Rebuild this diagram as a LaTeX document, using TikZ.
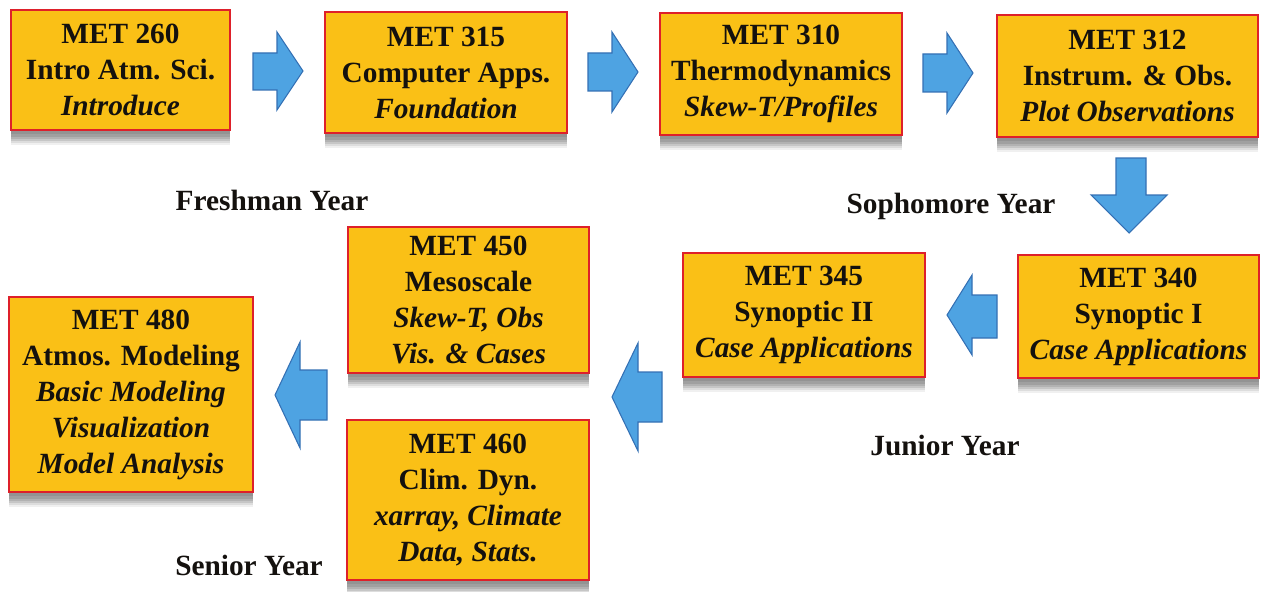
\documentclass[tikz,border=0pt]{standalone}
\usepackage{fontspec}
\setmainfont{Liberation Serif}
\usetikzlibrary{shadows}
\definecolor{boxgold}{RGB}{250,192,22}
\definecolor{boxred}{RGB}{222,32,42}
\definecolor{arrblue}{RGB}{78,163,226}
\definecolor{arredge}{RGB}{52,112,180}
\definecolor{txt}{RGB}{20,17,14}
\begin{document}
\begin{tikzpicture}[x=0.75pt,y=-0.75pt,
  softshadow/.style={
    general shadow={shadow xshift=0pt, shadow yshift=-11pt, opacity=.06, fill=black},
    general shadow={shadow xshift=0pt, shadow yshift=-9.5pt, opacity=.08, fill=black},
    general shadow={shadow xshift=0pt, shadow yshift=-8pt, opacity=.1, fill=black},
    general shadow={shadow xshift=0pt, shadow yshift=-6.5pt, opacity=.1, fill=black},
    general shadow={shadow xshift=0pt, shadow yshift=-5pt, opacity=.1, fill=black},
    general shadow={shadow xshift=0pt, shadow yshift=-3pt, opacity=.08, fill=black}},
  course/.style={draw=boxred, line width=1.4pt, fill=boxgold, text=txt, align=center,
    inner sep=0pt, font=\fontsize{22}{27}\selectfont\bfseries, softshadow},
  bluearrow/.style={fill=arrblue, draw=arredge, line width=0.8pt, line join=miter},
  year/.style={font=\fontsize{22}{27}\selectfont\bfseries, text=txt, anchor=base, inner sep=0pt}]
\useasboundingbox (0,0) rectangle (1261,592);
% course boxes
\node[course, minimum width=164.25pt, minimum height=90pt] (m260) at (120.5,70) {MET 260\\Intro Atm. Sci.\\\textit{Introduce}};
\node[course, minimum width=181.5pt, minimum height=90.75pt] (m315) at (446,72.5) {MET 315\\Computer Apps.\\\textit{Foundation}};
\node[course, minimum width=181.5pt, minimum height=91.5pt] (m310) at (781,74) {MET 310\\Thermodynamics\\\textit{Skew-T/Profiles}};
\node[course, minimum width=195.75pt, minimum height=91.5pt] (m312) at (1127.5,76) {MET 312\\Instrum. \& Obs.\\\textit{Plot Observations}};
\node[course, minimum width=180.75pt, minimum height=92.25pt] (m340) at (1138.5,316.5) {MET 340\\Synoptic I\\\textit{Case Applications}};
\node[course, minimum width=181.5pt, minimum height=93pt] (m345) at (804,315) {MET 345\\Synoptic II\\\textit{Case Applications}};
\node[course, minimum width=180.75pt, minimum height=109.5pt] (m450) at (468.5,300) {MET 450\\Mesoscale\\\textit{Skew-T, Obs}\\\textit{Vis. \& Cases}};
\node[course, minimum width=181.5pt, minimum height=120pt] (m460) at (468,500) {MET 460\\Clim. Dyn.\\\textit{xarray, Climate}\\\textit{Data, Stats.}};
\node[course, minimum width=183pt, minimum height=146.25pt] (m480) at (131,394.5) {MET 480\\Atmos. Modeling\\\textit{Basic Modeling}\\\textit{Visualization}\\\textit{Model Analysis}};
% block arrows
\draw[bluearrow] (253,53) -- (277,53) -- (277,32) -- (303,71) -- (277,110) -- (277,90) -- (253,90) -- cycle;
\draw[bluearrow] (588,53) -- (612,53) -- (612,32) -- (638,72) -- (612,112) -- (612,91) -- (588,91) -- cycle;
\draw[bluearrow] (923,54) -- (947,54) -- (947,33) -- (973,73) -- (947,113) -- (947,92) -- (923,92) -- cycle;
\draw[bluearrow] (1116,158) -- (1146,158) -- (1146,195) -- (1167,195) -- (1129,233) -- (1091,195) -- (1116,195) -- cycle;
\draw[bluearrow] (997,295) -- (972,295) -- (972,275) -- (947,315) -- (972,355) -- (972,338) -- (997,338) -- cycle;
\draw[bluearrow] (662,372) -- (638,372) -- (638,343) -- (612,397) -- (638,451) -- (638,422) -- (662,422) -- cycle;
\draw[bluearrow] (327,370) -- (300,370) -- (300,342) -- (275,395) -- (300,448) -- (300,420) -- (327,420) -- cycle;
% year labels
\node[year] (fresh) at (272,210) {Freshman Year};
\node[year] (soph) at (951,213) {Sophomore Year};
\node[year] (jun) at (945,455) {Junior Year};
\node[year] (sen) at (249,575) {Senior Year};
\end{tikzpicture}
\end{document}
